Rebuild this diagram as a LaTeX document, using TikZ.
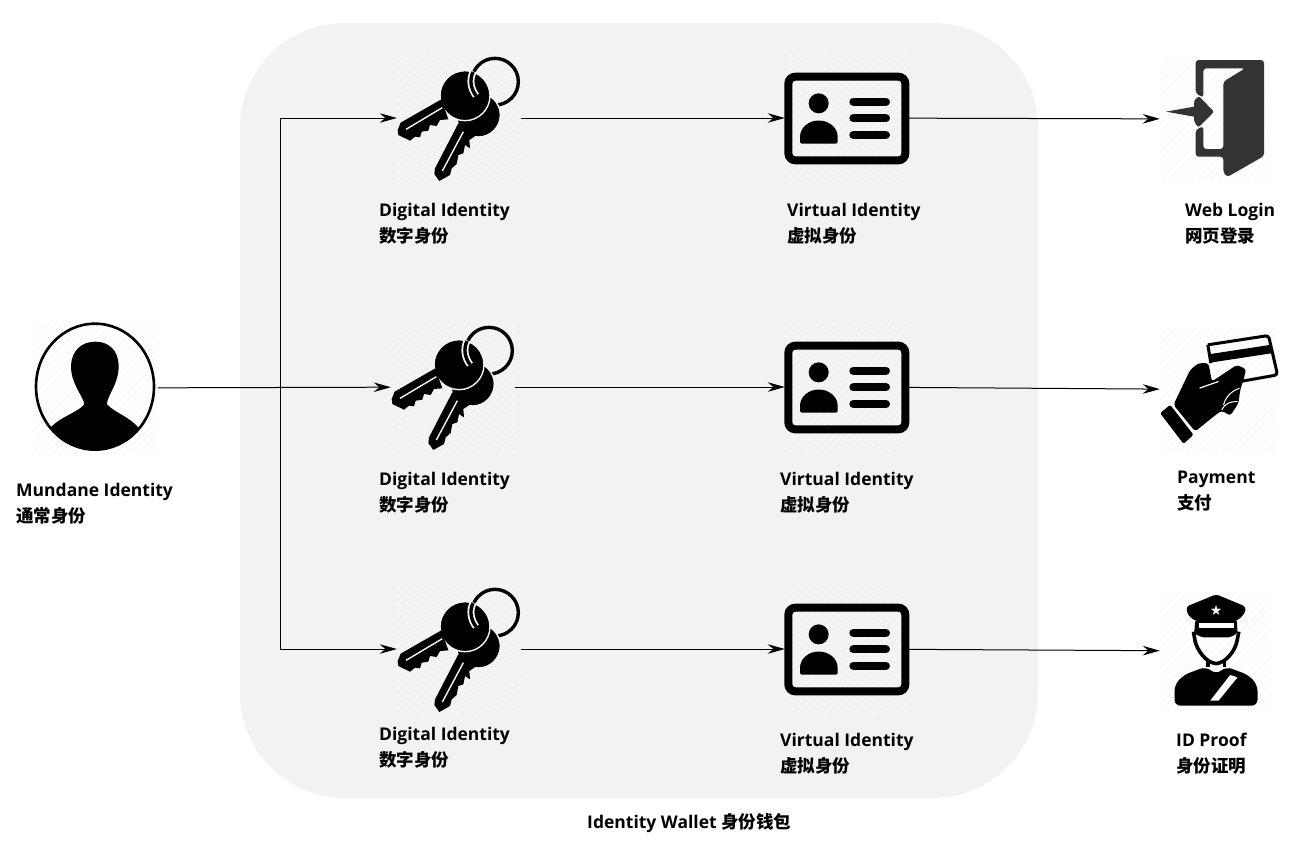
\documentclass[tikz,border=0pt]{standalone}
\usepackage{fontspec}
\setmainfont{Open Sans}
\newfontfamily\cjk{Noto Sans CJK SC Medium}
\usetikzlibrary{arrows.meta,patterns.meta}
\definecolor{walletgray}{HTML}{F2F2F2}
\definecolor{doorgray}{HTML}{333333}
\tikzset{
  iconbox/.style={inner sep=0pt,pattern={Lines[angle=45,distance=5pt,line width=1.2pt]},pattern color=black!3},
  flow/.style={-{Stealth[length=17pt,width=9.5pt]},line width=1pt},
  caption/.style={anchor=west,align=left,inner sep=0pt,font=\fontsize{17.5}{26}\selectfont\bfseries},
  keys/.pic={
    \begin{scope}[scale=1/3,shift={(-237,-234)}]
      \draw[line width=3.4pt] (345,125) circle (70);
      % back key
      \fill[draw=walletgray,line width=1.4pt] (295,225) circle (66);
      \fill (235,250) -- (165,385) -- (163,402) -- (178,423) -- (210,405) -- (215,385) -- (230,372) -- (235,345) -- (250,340) -- (255,315) -- (270,325) -- (268,300) -- (290,285) -- cycle;
      \draw[walletgray,line width=1.4pt] (187,393) -- (250,275);
      % front key
      \fill[draw=walletgray,line width=1.4pt] (255,167) circle (75);
      \fill (184,178) -- (62,248) -- (53,270) -- (55,285) -- (90,302) -- (105,290) -- (120,292) -- (125,275) -- (145,272) -- (150,255) -- (170,258) -- (180,240) -- (205,238) -- cycle;
      \draw[walletgray,line width=1.4pt] (78,268) -- (187,203);
      % ring over the heads
      \draw[walletgray,line width=7pt] (279,96) .. controls (268,120) and (272,145) .. (288,167);
      \draw[line width=3.4pt] (279,96) .. controls (268,120) and (272,145) .. (288,167);
    \end{scope}
  },
  idcard/.pic={
    \begin{scope}[scale=1/3,shift={(-231,-204)}]
      \draw[line width=8pt,rounded corners=7pt] (55,80) rectangle (406,331);
      \fill (146,160) circle (30);
      \fill[rounded corners=1.5pt] (90,281) -- (90,265) .. controls (90,230) and (120,212) .. (146,212) .. controls (173,212) and (203,230) .. (203,265) -- (203,281) -- cycle;
      \foreach \row in {155,205,255}
        \draw[line width=8pt,line cap=round] (250,\row) -- (348,\row);
    \end{scope}
  },
  doorway/.pic={
    \begin{scope}[scale=1/3,shift={(-225,-207)}]
      \fill[doorgray,rounded corners=3pt] (167,130) -- (167,30) -- (372,30) -- (372,318) -- (262,381) -- (250,368) -- (250,320) -- (167,320) -- (167,240) -- (190,228) -- (190,297) -- (250,297) -- (250,95) -- (315,55) -- (190,55) -- (190,143) -- cycle;
      \fill[doorgray] (78,185) -- (162,170) -- (163,152) [rounded corners=2pt] -- (176,138) -- (222,185) -- (176,232) -- (163,218) [sharp corners] -- (162,200) -- cycle;
    \end{scope}
  },
  cardhand/.pic={
    \begin{scope}[scale=1/3,shift={(-235,-209)}]
      \draw[line width=3pt,rounded corners=3pt] (203,75) -- (385,47) -- (412,165) -- (300,185);
      \draw[line width=3pt] (203,75) -- (212,130);
      \fill (208,103) -- (391,75) -- (396,100) -- (213,128) -- cycle;
      \fill[rounded corners=1.5pt] (60,280) -- (90,255) -- (160,345) -- (130,372) -- cycle;
      \fill[rounded corners=3pt] (100,255) -- (150,150) -- (175,130) -- (205,130) -- (215,185) -- (235,172) -- (290,135) -- (318,148) -- (310,180) -- (300,210) -- (295,250) -- (270,288) -- (245,272) -- (220,290) -- (165,335) -- cycle;
      \draw[white,line width=1.2pt] (178,205) -- (235,185);
      \draw[white,line width=1pt] (298,205) .. controls (270,215) and (255,235) .. (250,255);
      \draw[white,line width=1pt] (292,245) .. controls (270,245) and (255,250) .. (245,270);
    \end{scope}
  },
  officer/.pic={
    \begin{scope}[scale=1/3,shift={(-226,-198)}]
      \fill[rounded corners=3pt] (138,65) -- (228,28) -- (317,65) -- (314,85) -- (290,108) -- (165,108) -- (143,90) -- cycle;
      \fill[rounded corners=2pt] (165,105) -- (290,105) -- (292,145) -- (270,157) -- (185,157) -- (162,145) -- cycle;
      \fill[white] (175,113) rectangle (280,130);
      \node[white,inner sep=0pt,font=\fontsize{14}{14}\selectfont] (badge) at (228,75) {\fontspec{DejaVu Sans}★};
      \draw[line width=3.6pt,line join=round] (160,140) -- (165,170) .. controls (172,195) and (195,232) .. (228,236) .. controls (260,232) and (285,195) .. (290,170) -- (296,140);
      \draw[line width=3.6pt] (203,225) -- (203,245);
      \draw[line width=3.6pt] (253,225) -- (253,245);
      \fill[rounded corners=6pt] (103,362) -- (103,300) -- (130,270) -- (197,245) -- (228,268) -- (258,245) -- (325,270) -- (352,300) -- (352,362) -- cycle;
      \fill[white] (210,347) -- (270,270) -- (292,277) -- (235,347) -- cycle;
    \end{scope}
  },
  person/.pic={
    \begin{scope}[scale=1/3,shift={(-224,-219)}]
      \begin{scope}
        \clip (224,215) ellipse (177 and 189);
        \fill (85,345) .. controls (115,305) and (170,295) .. (192,268) .. controls (190,245) and (150,205) .. (152,150) .. controls (155,105) and (185,80) .. (225,80) .. controls (265,80) and (293,105) .. (295,150) .. controls (297,205) and (258,245) .. (260,268) .. controls (285,295) and (330,305) .. (360,345) -- (360,420) -- (85,420) -- cycle;
      \end{scope}
      \draw[line width=2.6pt] (224,215) ellipse (177 and 189);
    \end{scope}
  }
}
\begin{document}
\begin{tikzpicture}[x=1pt,y=-1pt]
    \useasboundingbox (0,0) rectangle (1300,860);
    \node[fill=walletgray,rounded corners=105pt,minimum width=798pt,minimum height=775pt,inner sep=0pt] (wallet) at (639,410.5) {};

    \node[iconbox,minimum width=124pt,minimum height=132pt] (person) at (95,388) {};
    \node[iconbox,minimum width=124pt,minimum height=130pt] (keyA) at (459,118) {};
    \node[iconbox,minimum width=124pt,minimum height=130pt] (keyB) at (453,387) {};
    \node[iconbox,minimum width=124pt,minimum height=130pt] (keyC) at (459,649) {};
    \node[iconbox,minimum width=124pt,minimum height=130pt] (cardA) at (847,118) {};
    \node[iconbox,minimum width=124pt,minimum height=130pt] (cardB) at (847,387) {};
    \node[iconbox,minimum width=124pt,minimum height=130pt] (cardC) at (847,649) {};
    \node[iconbox,minimum width=110pt,minimum height=118pt] (login) at (1215,119) {};
    \node[iconbox,minimum width=117pt,minimum height=123pt] (pay) at (1218.5,389.5) {};
    \node[iconbox,minimum width=111pt,minimum height=118pt] (proof) at (1215.5,651) {};

    \pic at (person) {person};
    \pic at (keyA) {keys};
    \pic at (keyB) {keys};
    \pic at (keyC) {keys};
    \pic at (cardA) {idcard};
    \pic at (cardB) {idcard};
    \pic at (cardC) {idcard};
    \pic at (login) {doorway};
    \pic at (pay) {cardhand};
    \pic at (proof) {officer};

    \coordinate (fork) at (280,388);

    \draw[flow] (person) -- (keyB);
    \draw[flow] (fork) |- (keyA);
    \draw[flow] (fork) |- (keyC);
    \draw[flow] (keyA) -- (cardA);
    \draw[flow] (keyB) -- (cardB);
    \draw[flow] (keyC) -- (cardC);
    \draw[flow] (cardA) -- (login);
    \draw[flow] (cardB) -- (pay);
    \draw[flow] (cardC) -- (proof);

    \node[caption] (labelPerson) at (16,504) {Mundane Identity\\{\cjk 通常身份}};
    \node[caption] (labelKeyA) at (379,224) {Digital Identity\\{\cjk 数字身份}};
    \node[caption] (labelKeyB) at (379,493) {Digital Identity\\{\cjk 数字身份}};
    \node[caption] (labelKeyC) at (379,748) {Digital Identity\\{\cjk 数字身份}};
    \node[caption] (labelCardA) at (787,224) {Virtual Identity\\{\cjk 虚拟身份}};
    \node[caption] (labelCardB) at (780,493) {Virtual Identity\\{\cjk 虚拟身份}};
    \node[caption] (labelCardC) at (780,754) {Virtual Identity\\{\cjk 虚拟身份}};
    \node[caption] (labelLogin) at (1185,224) {Web Login\\{\cjk 网页登录}};
    \node[caption] (labelPay) at (1177,491) {Payment\\{\cjk 支付}};
    \node[caption] (labelProof) at (1176,754) {ID Proof\\{\cjk 身份证明}};
    \node[caption] (labelWallet) at (587,823) {Identity Wallet {\cjk 身份钱包}};

\end{tikzpicture}
\end{document}
